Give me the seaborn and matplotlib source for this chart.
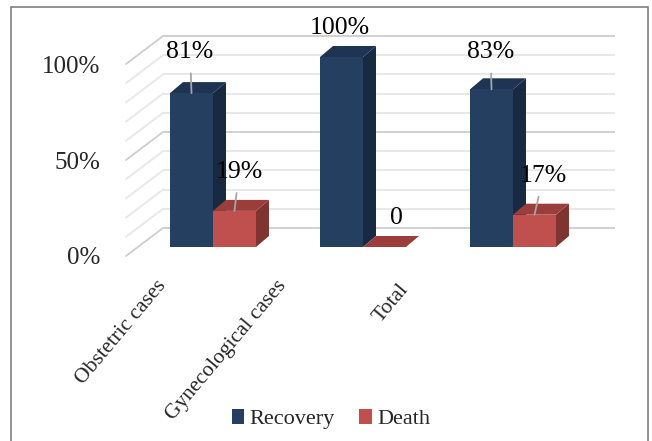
#!/usr/bin/env python3
#===============================================================================
# plot outcome of cases (3D style bar chart)
#===============================================================================

# Imports ======================================================================

import pandas as pd
import seaborn as sns
import matplotlib
matplotlib.use('Agg')
import matplotlib.pyplot as plt
from matplotlib.patches import Polygon, Rectangle

# Data =========================================================================

CATEGORIES = ['Obstetric cases', 'Gynecological cases', 'Total']
OUTCOMES = ['Recovery', 'Death']
RECOVERY = [81, 100, 83]
DEATH = [19, 0, 17]
LABELS = ['81%', '100%', '83%', '19%', '0', '17%']
Y_TICKS = [0, 50, 100]
Y_TICKLABELS = ['0%', '50%', '100%']

# Style ========================================================================

FRONT = ['#243f60', '#c0504d']
TOP = {'#243f60': '#1e3452', '#c0504d': '#9b3e3b'}
SIDE = {'#243f60': '#182a42', '#c0504d': '#7f3431'}

W, H = 652, 441
PX_X = 150.0        # pixels per category
PX_Y = 1.9          # pixels per percent
BAR_DX, BAR_DY = 13 / PX_X, 11 / PX_Y       # depth of a bar
WALL_DX, WALL_DY = -37 / PX_X, -28 / PX_Y   # back wall -> front plane
BACK_X0, BACK_X1, BACK_Y0, BACK_SCALE = -50 / PX_X, 402 / PX_X, 10.0, 1.0105

# (dx, dy, leader) text offsets in pixels from the front top of each bar
LABEL_OFFSETS = [(-1.5, 41, True), (-1.5, 29, False), (-1, 37, True),
                 (4.5, 39, True), (12, 29, False), (9, 39, True)]
CAT_OFFSETS = [(-50, -36), (-80, -36), (-108, -39)]


def back_y(v):
    return BACK_Y0 + v * BACK_SCALE


def main():
    sns.set_style('white')
    plt.rcParams['font.family'] = ['Liberation Serif', 'DejaVu Serif']

    df = pd.DataFrame({
        'Category': CATEGORIES * 2,
        'Outcome': [OUTCOMES[0]] * 3 + [OUTCOMES[1]] * 3,
        'Value': RECOVERY + DEATH,
    })

    fig = plt.figure(figsize=(W / 100, H / 100), dpi=100)
    left, right, top, bottom = 106, 640, 20, 270
    ax = fig.add_axes([left / W, 1 - bottom / H, (right - left) / W,
                       (bottom - top) / H])

    sns.barplot(data=df, x='Category', y='Value', hue='Outcome',
                palette=FRONT, width=0.573, errorbar=None, legend=False,
                ax=ax, linewidth=0, saturation=1)

    ax.set_xlim((left - 213) / PX_X, (right - 213) / PX_X)
    ax.set_ylim((247 - bottom) / PX_Y, (247 - top) / PX_Y)

    # walls: back horizontal gridlines and left-wall diagonals
    for v in range(0, 101, 10):
        col = '#d0d0d0' if v % 50 == 0 else '#e8e8e8'
        yb = back_y(v)
        ax.plot([BACK_X0, BACK_X1], [yb, yb], color=col, lw=1.4, zorder=1,
                solid_capstyle='butt')
        ax.plot([BACK_X0, BACK_X0 + WALL_DX], [yb, yb + WALL_DY], color=col,
                lw=1.4, zorder=1)

    # 3D faces for each bar
    for cont in ax.containers:
        for rect in cont:
            x0, w, h = rect.get_x(), rect.get_width(), rect.get_height()
            fc = matplotlib.colors.to_hex(rect.get_facecolor())
            z = 3 + x0
            top_face = [(x0, h), (x0 + w, h), (x0 + w + BAR_DX, h + BAR_DY),
                        (x0 + BAR_DX, h + BAR_DY)]
            side_face = [(x0 + w, 0), (x0 + w + BAR_DX, BAR_DY),
                         (x0 + w + BAR_DX, h + BAR_DY), (x0 + w, h)]
            ax.add_patch(Polygon(side_face, closed=True, fc=SIDE[fc],
                                 ec='none', zorder=z))
            ax.add_patch(Polygon(top_face, closed=True, fc=TOP[fc],
                                 ec='none', zorder=z))
            rect.set_zorder(z + 0.01)

    # data labels
    rects = [r for cont in ax.containers for r in cont]
    for rect, text, (dx, dy, lead) in zip(rects, LABELS, LABEL_OFFSETS):
        xc = rect.get_x() + rect.get_width() / 2
        props = dict(arrowstyle='-', color='#a6a6a6', lw=1.3,
                     shrinkA=5, shrinkB=0) if lead else None
        ax.annotate(text, xy=(xc, rect.get_height()), xytext=(dx, dy),
                    textcoords='offset pixels', ha='center', va='center',
                    fontsize=18.5, color='black', arrowprops=props, zorder=10)

    # category labels
    ax.set_xticks([])
    ax.set_xlabel('')
    for i, (cat, (dx, dy)) in enumerate(zip(CATEGORIES, CAT_OFFSETS)):
        ax.annotate(cat, xy=(i, 0), xytext=(dx, dy),
                    textcoords='offset pixels', rotation=50,
                    rotation_mode='anchor', ha='right', va='center',
                    fontsize=15.5)

    # value axis on the front plane
    ax.set_yticks([back_y(v) + WALL_DY for v in Y_TICKS])
    ax.set_yticklabels(Y_TICKLABELS, fontsize=18)
    ax.tick_params(axis='y', length=0, pad=4.3)
    ax.set_ylabel('')
    sns.despine(ax=ax, left=True, bottom=True)

    # legend
    fig.legend(ax.containers, OUTCOMES, loc='center',
               bbox_to_anchor=(331 / W, 1 - 419 / H), ncol=2, frameon=False,
               fontsize=16, handlelength=0.55, handleheight=0.65,
               handletextpad=0.25, columnspacing=1.1)

    # chart border
    fig.add_artist(Rectangle((11 / W, -0.05), 637 / W, 1.05 - 7 / H,
                             transform=fig.transFigure, fill=False,
                             ec='#7f7f7f', lw=1.2))

    fig.savefig('out.png', dpi=100)


# Execute ======================================================================

if __name__ == '__main__':
    main()
